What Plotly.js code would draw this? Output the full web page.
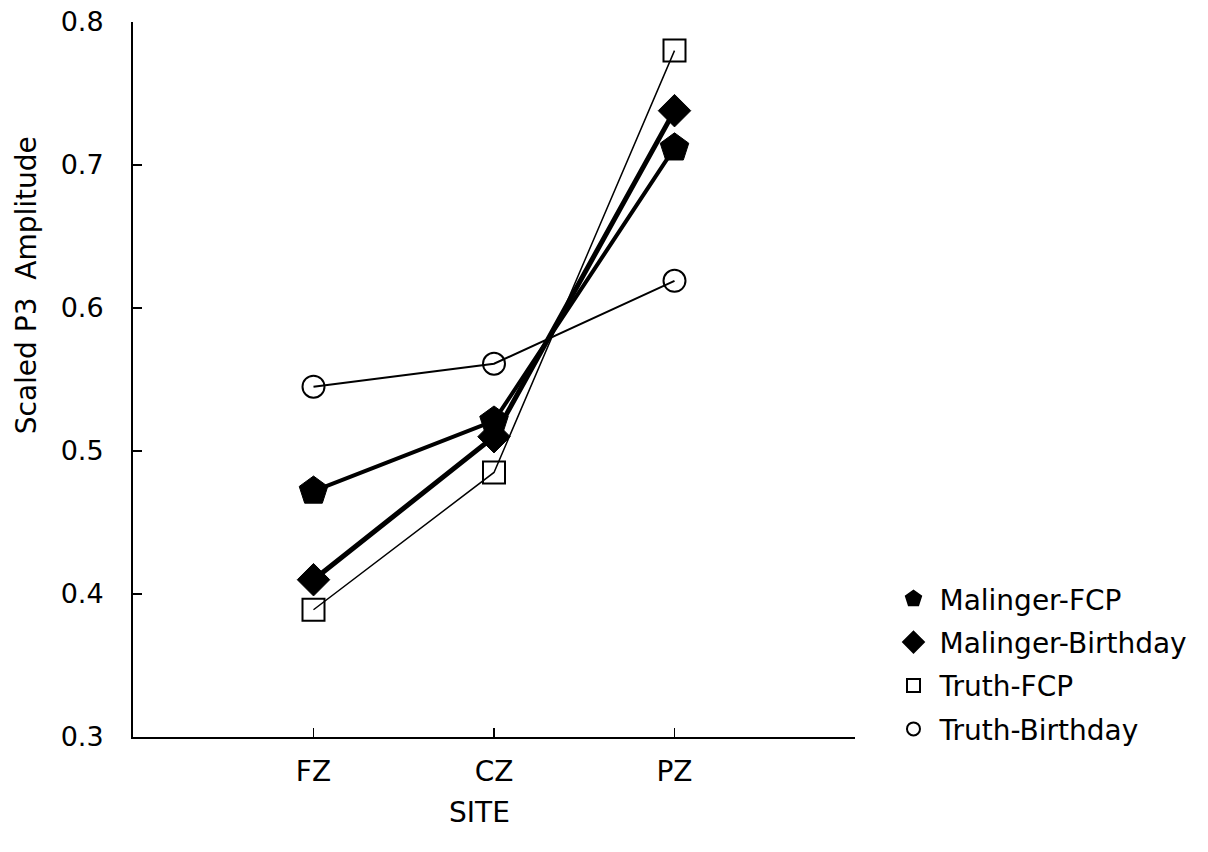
<!DOCTYPE html>
<html><head><meta charset="utf-8">
<script src="https://cdn.plot.ly/plotly-3.0.1.min.js"></script>
<style>html,body{margin:0;padding:0;background:#fff}#chart{width:1208px;height:852px}</style>
</head><body><div id="chart"></div>
<script>
const sites = ["FZ", "CZ", "PZ"];
const malingerFCP = [0.472, 0.521, 0.712];
const malingerBirthday = [0.410, 0.510, 0.738];
const truthFCP = [0.389, 0.485, 0.780];
const truthBirthday = [0.545, 0.561, 0.619];
const seriesNames = ["Malinger-FCP", "Malinger-Birthday", "Truth-FCP", "Truth-Birthday"];
const yTicks = [0.3, 0.4, 0.5, 0.6, 0.7, 0.8];
const yTickText = ["0.3", "0.4", "0.5", "0.6", "0.7", "0.8"];
const xTitle = "SITE";
const yTitle = "Scaled P3  Amplitude";

const xIdx = sites.map((s, i) => i);
function tr(name, y, sym, size, lw) {
  const open = sym.indexOf('open') >= 0;
  return {x: xIdx, y: y, name: name, type: 'scatter', mode: 'lines+markers',
    showlegend: false,
    line: {color: '#000', width: lw},
    marker: {symbol: sym, size: size, color: '#000', line: {color: '#000', width: open ? 2 : 1}},
    cliponaxis: false};
}
function lg(name, sym, size, grp) {
  return {x: [null], y: [null], name: name, type: 'scatter', mode: 'markers', legendgroup: grp,
    marker: {symbol: sym, size: size, color: '#000', line: {color: '#000', width: 2}}};
}
const data = [
  tr(seriesNames[0], malingerFCP, 'pentagon', 30, 4),
  tr(seriesNames[1], malingerBirthday, 'diamond', 25, 5),
  tr(seriesNames[2], truthFCP, 'square-open', 22, 1.5),
  tr(seriesNames[3], truthBirthday, 'circle-open', 22, 2),
  lg(seriesNames[0], 'pentagon', 18, 'a'),
  lg(seriesNames[1], 'diamond', 16, 'b'),
  lg(seriesNames[2], 'square-open', 13, 'c'),
  lg(seriesNames[3], 'circle-open', 13, 'd')
];
const layout = {
  width: 1208, height: 852,
  margin: {l: 133, r: 353, t: 22, b: 115},
  paper_bgcolor: '#fff', plot_bgcolor: '#fff',
  font: {family: 'DejaVu Sans, sans-serif', color: '#000', size: 24},
  showlegend: true,
  legend: {x: 1.045, y: 0.228, xanchor: 'left', yanchor: 'top', traceorder: 'grouped',
    tracegroupgap: 4, font: {size: 28}, bgcolor: 'rgba(0,0,0,0)', itemwidth: 42},
  xaxis: {range: [-1, 3], tickvals: xIdx, ticktext: sites, showgrid: false, zeroline: false,
    showline: true, linecolor: '#000', linewidth: 2, ticks: 'inside', ticklen: 9,
    tickwidth: 1.5, tickcolor: '#000', tickfont: {size: 28}, ticklabelstandoff: 8},
  yaxis: {range: [0.3, 0.8], tickvals: yTicks, ticktext: yTickText, showgrid: false, zeroline: false,
    showline: true, linecolor: '#000', linewidth: 2, ticks: 'inside', ticklen: 9,
    tickwidth: 1.5, tickcolor: '#000', tickfont: {size: 27}, ticklabelstandoff: 22},
  annotations: [
    {text: yTitle, xref: 'paper', yref: 'paper', x: -0.148, y: 0.632, textangle: -90,
     showarrow: false, font: {size: 28}, xanchor: 'center', yanchor: 'middle'},
    {text: xTitle, xref: 'paper', yref: 'paper', x: 0.48, y: -0.106, showarrow: false,
     font: {size: 28}, xanchor: 'center', yanchor: 'middle'}
  ]
};
Plotly.newPlot('chart', data, layout, {displayModeBar: false, staticPlot: true});
</script></body></html>
